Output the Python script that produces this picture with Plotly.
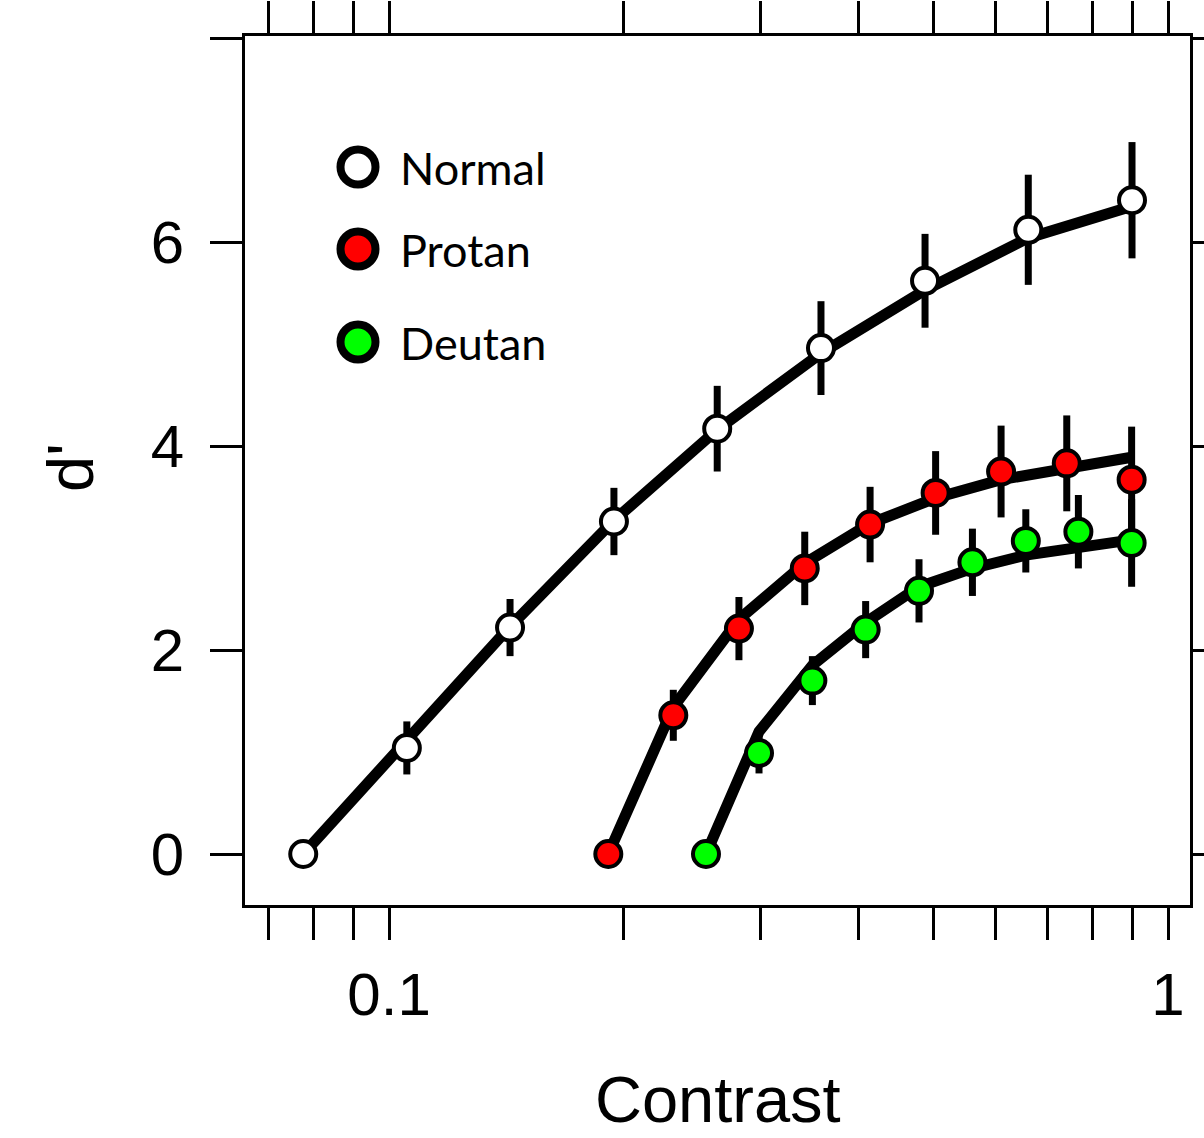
import plotly.graph_objects as go

# ---- data ----
normal_x = [0.0776, 0.1054, 0.1430, 0.1944, 0.2638, 0.3585, 0.4876, 0.6616, 0.899]
normal_y = [0, 1.04, 2.22, 3.26, 4.17, 4.96, 5.62, 6.12, 6.41]
normal_err = [0, 0.26, 0.28, 0.33, 0.42, 0.46, 0.46, 0.54, 0.57]
normal_fit = [0, 1.11, 2.23, 3.27, 4.16, 4.91, 5.53, 6.04, 6.35]

protan_x = [0.1912, 0.2317, 0.2813, 0.3417, 0.4145, 0.5031, 0.6105, 0.7413, 0.898]
protan_y = [0, 1.36, 2.21, 2.80, 3.23, 3.54, 3.75, 3.83, 3.67]
protan_err = [0, 0.25, 0.31, 0.36, 0.37, 0.41, 0.45, 0.47, 0.52]
protan_fit = [0, 1.44, 2.30, 2.85, 3.24, 3.49, 3.67, 3.79, 3.89]

deutan_x = [0.2552, 0.2985, 0.3495, 0.4091, 0.479, 0.5609, 0.6568, 0.7672, 0.898]
deutan_y = [0, 0.99, 1.70, 2.20, 2.58, 2.86, 3.07, 3.16, 3.05]
deutan_err = [0, 0.20, 0.24, 0.28, 0.31, 0.33, 0.31, 0.36, 0.43]
deutan_fit = [0, 1.20, 1.85, 2.27, 2.62, 2.80, 2.93, 3.01, 3.08]

series_names = ["Normal", "Protan", "Deutan"]
series_colors = ["#ffffff", "#ff0000", "#00ff00"]

x_tickvals = [0.07, 0.08, 0.09, 0.1, 0.2, 0.3, 0.4, 0.5, 0.6, 0.7, 0.8, 0.9, 1.0]
x_ticktext = ["", "", "", "0.1", "", "", "", "", "", "", "", "", "1"]
y_tickvals = [0, 2, 4, 6, 8]
y_ticktext = ["0", "2", "4", "6", ""]

series = [
    (normal_x, normal_y, normal_err, normal_fit),
    (protan_x, protan_y, protan_err, protan_fit),
    (deutan_x, deutan_y, deutan_err, deutan_fit),
]

W, H = 1204, 1138
L, R, T, B = 245, 14, 36, 233
PW, PH = W - L - R, H - T - B

def px(xp):
    return (xp - L) / PW

def py(yp):
    return (H - B - yp) / PH

fig = go.Figure()

# fitted curves
for (x, y, e, f) in series:
    fig.add_trace(go.Scatter(x=x, y=f, mode="lines",
                             line=dict(color="black", width=11),
                             showlegend=False, hoverinfo="skip"))

# error bars
for (x, y, e, f) in series:
    fig.add_trace(go.Scatter(x=x, y=y, mode="markers",
                             marker=dict(size=1, opacity=0),
                             error_y=dict(type="data", array=e, visible=True,
                                          thickness=7, width=0, color="black"),
                             showlegend=False, hoverinfo="skip"))

# points
for (x, y, e, f), name, col in zip(series, series_names, series_colors):
    fig.add_trace(go.Scatter(x=x, y=y, mode="markers", name=name,
                             marker=dict(size=26, color=col,
                                         line=dict(color="black", width=4)),
                             showlegend=False))

# legend drawn as shapes + text
legend_y_px = [167, 249, 342]
for name, col, yp in zip(series_names, series_colors, legend_y_px):
    fig.add_shape(type="circle", xref="paper", yref="paper",
                  xsizemode="pixel", ysizemode="pixel",
                  xanchor=px(358), yanchor=py(yp),
                  x0=-17.5, x1=17.5, y0=-17.5, y1=17.5,
                  line=dict(color="black", width=8), fillcolor=col, layer="above")
    fig.add_annotation(x=px(398), y=py(yp + 1), xref="paper", yref="paper",
                       text=name, showarrow=False, xanchor="left", yanchor="middle",
                       font=dict(family="Lato", size=45, color="black"))

# axis titles
fig.add_annotation(x=0.5, y=py(1138), xref="paper", yref="paper", text="Contrast",
                   showarrow=False, xanchor="center", yanchor="bottom",
                   font=dict(family="Liberation Sans", size=65, color="black"))
fig.add_annotation(x=px(70), y=py(468), xref="paper", yref="paper", text="d'",
                   showarrow=False, xanchor="center", yanchor="middle", textangle=-90,
                   font=dict(family="Liberation Sans", size=65, color="black"))

axis_common = dict(showline=True, linewidth=3, linecolor="black", mirror="ticks",
                   ticks="outside", ticklen=32, tickwidth=3, tickcolor="black",
                   showgrid=False, zeroline=False, automargin=False,
                   tickfont=dict(family="Liberation Sans", size=60, color="black"))

fig.update_layout(
    width=W, height=H,
    margin=dict(l=L, r=R, t=T, b=B, pad=0),
    paper_bgcolor="white", plot_bgcolor="white",
    showlegend=False,
    xaxis=dict(type="log", range=[-1.1849, 0.0282], tickmode="array",
               tickvals=x_tickvals, ticktext=x_ticktext, ticklabelstandoff=3,
               **axis_common),
    yaxis=dict(range=[-0.5, 8.02], tickmode="array",
               tickvals=y_tickvals, ticktext=y_ticktext, ticklabelstandoff=14,
               **axis_common),
)

fig.write_html("out.html", config={"displayModeBar": False},
               post_script="document.body.style.margin='0px';document.body.style.padding='0px';")
